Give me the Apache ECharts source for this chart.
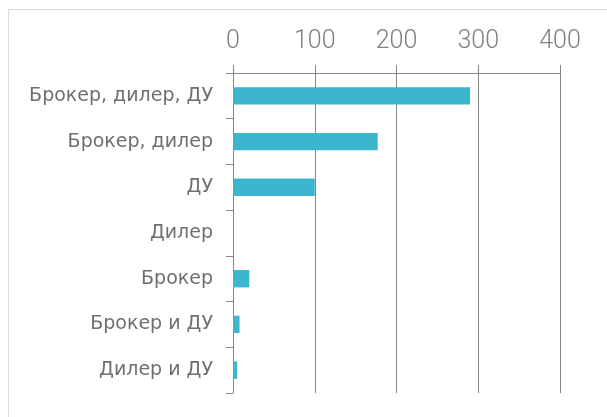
<!DOCTYPE html>
<html>
<head>
<meta charset="utf-8">
<script src="https://cdn.jsdelivr.net/npm/echarts@6/dist/echarts.min.js"></script>
<style>
  html, body { margin: 0; padding: 0; background: #fff; overflow: hidden; }
  #chart { width: 607px; height: 417px; }
</style>
</head>
<body>
<div id="chart"></div>
<script>
const categories = ['Брокер, дилер, ДУ', 'Брокер, дилер', 'ДУ', 'Дилер', 'Брокер', 'Брокер и ДУ', 'Дилер и ДУ']
const values = [290, 177, 100, 0, 20, 8, 5]
const tickMin = 0
const tickMax = 400
const tickStep = 100

const chart = echarts.init(document.getElementById('chart'))

chart.setOption({
  animation: false,
  graphic: [
    {
      // chart frame: only the top and left edges fall inside the picture
      type: 'polyline',
      shape: { points: [[8.5, 417], [8.5, 9.5], [607, 9.5]] },
      style: { fill: null, stroke: '#d9d9d9', lineWidth: 1 },
      silent: true
    }
  ],
  grid: {
    left: 233,
    right: 47,
    top: 73,
    bottom: 24
  },
  xAxis: {
    type: 'value',
    position: 'top',
    min: tickMin,
    max: tickMax,
    interval: tickStep,
    axisLine: { show: true, lineStyle: { color: '#868686', width: 1 } },
    axisTick: { show: true, length: 8, lineStyle: { color: '#868686' } },
    splitLine: { show: true, lineStyle: { color: '#868686', width: 1 } },
    axisLabel: {
      color: '#7f7f7f',
      fontSize: 25,
      fontWeight: 300,
      fontFamily: 'Roboto',
      margin: 19
    }
  },
  yAxis: {
    type: 'category',
    inverse: true,
    data: categories,
    axisLine: { show: true, lineStyle: { color: '#868686', width: 1 } },
    axisTick: { show: true, length: 7, lineStyle: { color: '#868686' } },
    axisLabel: {
      color: '#6f6f6f',
      fontSize: 19,
      fontFamily: 'DejaVu Sans',
      margin: 20
    }
  },
  series: [
    {
      type: 'bar',
      data: values,
      barWidth: '38%',
      itemStyle: { color: '#3cb5cf' }
    }
  ]
})
</script>
</body>
</html>
